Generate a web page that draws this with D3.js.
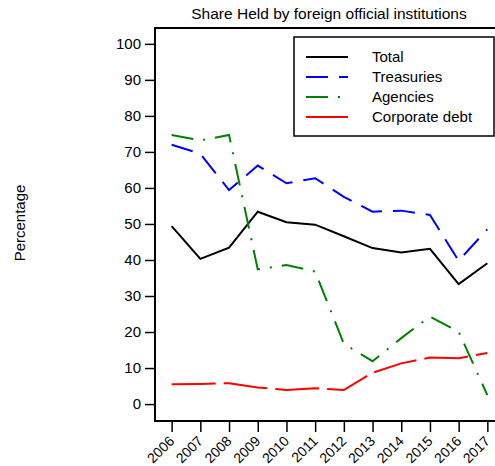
<!DOCTYPE html>
<html>
<head>
<meta charset="utf-8">
<script src="https://cdn.jsdelivr.net/npm/d3@7"></script>
<style>
  body { margin: 0; background: #fff; }
  svg text { font-family: "Liberation Sans", Arial, sans-serif; fill: #000; }
</style>
</head>
<body>
<div id="chart"></div>
<script>
// Data
var years = [2006, 2007, 2008, 2009, 2010, 2011, 2012, 2013, 2014, 2015, 2016, 2017];
var total = [49.4, 40.3, 43.4, 53.4, 50.5, 49.8, 46.6, 43.3, 42.1, 43.1, 33.3, 39.1];
var treasuries = [72.0, 69.5, 59.4, 66.2, 61.3, 62.7, 57.5, 53.4, 53.7, 52.5, 39.8, 48.5];
var agencies = [74.7, 73.2, 74.7, 37.4, 38.6, 36.8, 16.7, 11.9, 18.3, 24.3, 20.1, 2.5];
var corporate = [5.5, 5.6, 5.8, 4.6, 3.9, 4.4, 3.9, 8.7, 11.3, 12.9, 12.7, 14.2];
var yTicks = [0, 10, 20, 30, 40, 50, 60, 70, 80, 90, 100];

var series = [
  { name: "Total", values: total, color: "#000000", dash: null },
  { name: "Treasuries", values: treasuries, color: "#0000ff", dash: "22,11" },
  { name: "Agencies", values: agencies, color: "#008000", dash: "22,10,2,10" },
  { name: "Corporate debt", values: corporate, color: "#ff0000", dash: "44,8" }
];

var W = 495, H = 466;
var plotLeft = 155, plotRight = 504, plotTop = 28, plotBottom = 421;

var svg = d3.select("#chart")
  .append("svg")
  .attr("width", W)
  .attr("height", H);

// Scales
var x = d3.scaleLinear()
  .domain([2005.42, 2017.58])
  .range([plotLeft, plotRight]);
var y = d3.scaleLinear()
  .domain([-4.7, 104.4])
  .range([plotBottom, plotTop]);

// Title
svg.append("text")
  .attr("x", 329)
  .attr("y", 19)
  .attr("text-anchor", "middle")
  .style("font-size", "15.5px")
  .text("Share Held by foreign official institutions");

// Y axis
var yAxis = svg.append("g")
  .attr("transform", "translate(" + plotLeft + ",0)")
  .call(d3.axisLeft(y).tickValues(yTicks).tickSize(10).tickPadding(4));
yAxis.select(".domain").remove();
yAxis.selectAll("line").attr("stroke", "#000").attr("stroke-width", 1.5);
yAxis.selectAll("text").style("font-size", "15px");

// X axis
var xAxis = svg.append("g")
  .attr("transform", "translate(0," + plotBottom + ")")
  .call(d3.axisBottom(x).tickValues(years).tickFormat(d3.format("d")).tickSize(11));
xAxis.select(".domain").remove();
xAxis.selectAll("line").attr("stroke", "#000").attr("stroke-width", 1.5);
xAxis.selectAll("text")
  .style("font-size", "14px")
  .attr("text-anchor", "end")
  .attr("dy", null)
  .attr("y", 0)
  .attr("transform", "translate(3,21) rotate(-45)");

// Y label
svg.append("text")
  .attr("transform", "translate(25," + 223 + ") rotate(-90)")
  .attr("text-anchor", "middle")
  .style("font-size", "15px")
  .text("Percentage");

// Lines
var line = d3.line()
  .x(function (d, i) { return x(years[i]); })
  .y(function (d) { return y(d); });

svg.selectAll(".series")
  .data(series)
  .enter()
  .append("path")
  .attr("class", "series")
  .attr("fill", "none")
  .attr("stroke", function (d) { return d.color; })
  .attr("stroke-width", 2)
  .attr("stroke-dasharray", function (d) { return d.dash; })
  .attr("d", function (d) { return line(d.values); });

// Plot box
svg.append("rect")
  .attr("x", plotLeft)
  .attr("y", plotTop)
  .attr("width", plotRight - plotLeft)
  .attr("height", plotBottom - plotTop)
  .attr("fill", "none")
  .attr("stroke", "#000")
  .attr("stroke-width", 2);

// Legend
var legend = svg.append("g").attr("class", "legend");
legend.append("rect")
  .attr("x", 294)
  .attr("y", 37)
  .attr("width", 200)
  .attr("height", 99)
  .attr("fill", "#fff")
  .attr("stroke", "#000")
  .attr("stroke-width", 1.5);
var keys = legend.selectAll(".legend-key")
  .data(series)
  .enter()
  .append("g")
  .attr("class", "legend-key")
  .attr("transform", function (d, i) { return "translate(0," + (57 + i * 20) + ")"; });
keys.append("line")
  .attr("x1", 306)
  .attr("x2", 348)
  .attr("stroke", function (d) { return d.color; })
  .attr("stroke-width", 2)
  .attr("stroke-dasharray", function (d) { return d.dash; });
keys.append("text")
  .attr("x", 372)
  .attr("dy", "0.35em")
  .style("font-size", "15px")
  .text(function (d) { return d.name; });
</script>
</body>
</html>
